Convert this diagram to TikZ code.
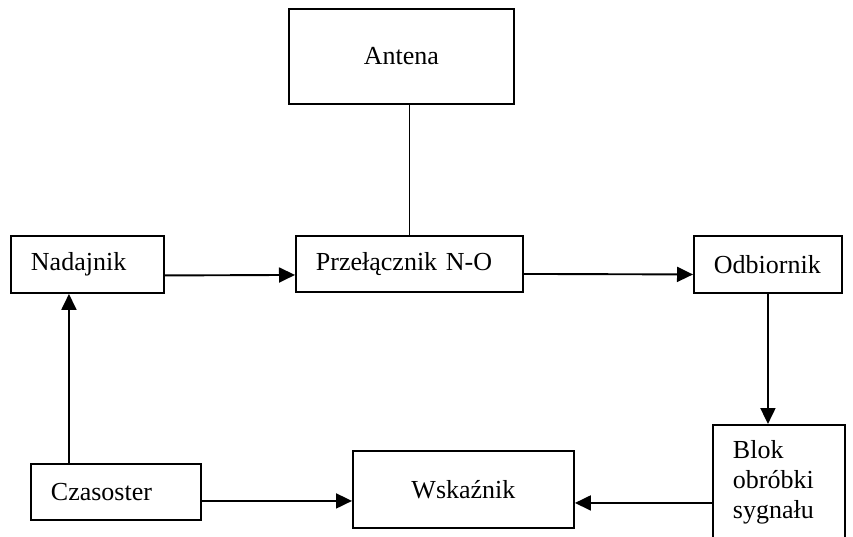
\documentclass[tikz,border=0pt]{standalone}
\usepackage{fontspec}
\setmainfont{Liberation Serif}
\usetikzlibrary{arrows.meta}
\begin{document}
\begin{tikzpicture}[x=1pt,y=-1pt,
  box/.style={draw,line width=1.9pt,rectangle,anchor=north west,
    font=\fontsize{26}{30}\selectfont},
  lbox/.style={box,align=left,inner xsep=20pt,inner ysep=0pt},
  cbox/.style={box,align=center,inner sep=0pt},
  conn/.style={line width=1.9pt},
  arr/.style={conn,-{Triangle[length=16pt,width=15pt]}}]
\useasboundingbox (0,0) rectangle (853,537);
\clip (0,0) rectangle (853,537);

\node[cbox,minimum width=225pt,minimum height=95pt] (ant) at (288,8) {Antena};
\node[lbox,text width=113pt,minimum height=57pt] (nad) at (10,235) {Nadajnik};
\node[lbox,text width=187pt,minimum height=56pt] (pz) at (295,235) {Przełącznik N-O};
\node[lbox,text width=108pt,minimum height=57pt] (odb) at (693,235) {Odbiornik};
\node[lbox,text width=92pt,inner ysep=16pt] (blok) at (712,424) {Blok\\obróbki\\sygnału\\[12pt]};
\node[lbox,text width=130pt,minimum height=56pt] (cz) at (30,463) {Czasoster};
\node[cbox,minimum width=221pt,minimum height=77pt] (wsk) at (352,450) {Wskaźnik};

\draw[conn] (pz.north |- ant.south) -- (pz.north);
\draw[arr] ([yshift=-11pt]nad.east) -- ([yshift=-11pt]pz.west);
\draw[arr] ([yshift=-10pt]pz.east) -- ([yshift=-10pt]odb.west);
\draw[arr] (odb.south) -- (odb.south |- blok.north);
\coordinate (w1) at ([yshift=-13.5pt]wsk.east);
\draw[arr] (w1 -| blok.west) -- (w1);
\coordinate (c1) at ([yshift=-9pt]cz.east);
\draw[arr] (c1) -- (c1 -| wsk.west);
\coordinate (c2) at ([xshift=-47pt]cz.north);
\draw[arr] (c2) -- (c2 |- nad.south);
\end{tikzpicture}
\end{document}
